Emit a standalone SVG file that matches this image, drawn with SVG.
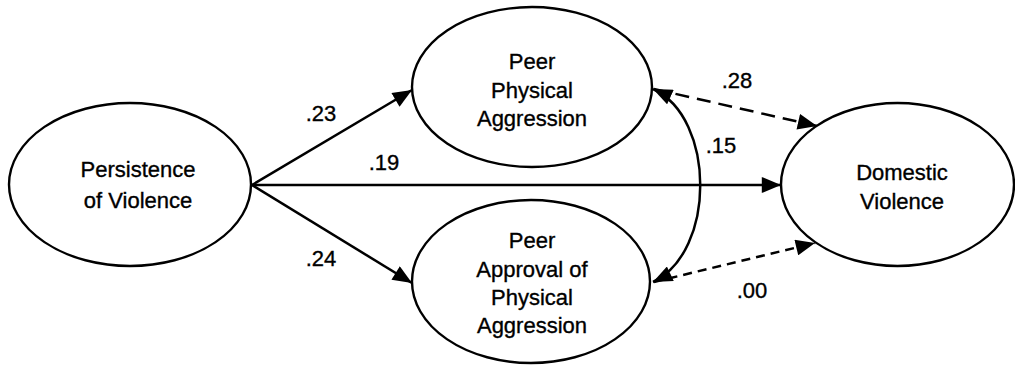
<svg xmlns="http://www.w3.org/2000/svg" width="1015" height="365" viewBox="0 0 1015 365">
<style>
.node ellipse{fill:#fff;stroke:#000;stroke-width:2.4}
text{font-family:"Liberation Sans",Arial,sans-serif;font-size:22px;fill:#000;stroke:#000;stroke-width:0.35;text-anchor:middle}
.conn path{fill:none;stroke:#000;stroke-width:2.5}
</style>
<defs>
<marker id="ah" markerUnits="userSpaceOnUse" markerWidth="22" markerHeight="16" refX="18" refY="7.5" orient="auto-start-reverse" viewBox="0 0 20 15">
<path d="M0,0 L18,7.5 L0,15 Z" fill="#000"/>
</marker>
</defs>
<rect width="1015" height="365" fill="#fff"/>
<g class="conn" id="connectors">
<path d="M252,185 L412,90" marker-end="url(#ah)"/>
<path d="M252,185 L412,283" marker-end="url(#ah)"/>
<path d="M252,185 L781,185" marker-end="url(#ah)"/>
<path d="M654,89 L817,126" stroke-dasharray="14 8" marker-end="url(#ah)"/>
<path d="M654,282 L815,243" stroke-dasharray="9 6" marker-end="url(#ah)"/>
<path d="M653,89 C716,118 716,252 653,282" marker-start="url(#ah)" marker-end="url(#ah)"/>
</g>
<g id="persistence" class="node">
<ellipse cx="130" cy="184.5" rx="121" ry="81.5"/>
<text x="138" y="177">Persistence</text>
<text x="138" y="208">of Violence</text>
</g>
<g id="peer-physical" class="node">
<ellipse cx="532" cy="87" rx="120" ry="80"/>
<text x="532" y="69">Peer</text>
<text x="532" y="98">Physical</text>
<text x="532" y="126">Aggression</text>
</g>
<g id="peer-approval" class="node">
<ellipse cx="531" cy="281.5" rx="119" ry="81.5"/>
<text x="532" y="248">Peer</text>
<text x="532" y="277">Approval of</text>
<text x="532" y="305">Physical</text>
<text x="532" y="333">Aggression</text>
</g>
<g id="domestic" class="node">
<ellipse cx="897.5" cy="184.5" rx="116.5" ry="81.5"/>
<text x="902" y="180">Domestic</text>
<text x="902" y="209">Violence</text>
</g>
<g id="labels">
<text x="321" y="121">.23</text>
<text x="384" y="170">.19</text>
<text x="321" y="266">.24</text>
<text x="737" y="88">.28</text>
<text x="721" y="153">.15</text>
<text x="752" y="298">.00</text>
</g>
</svg>
